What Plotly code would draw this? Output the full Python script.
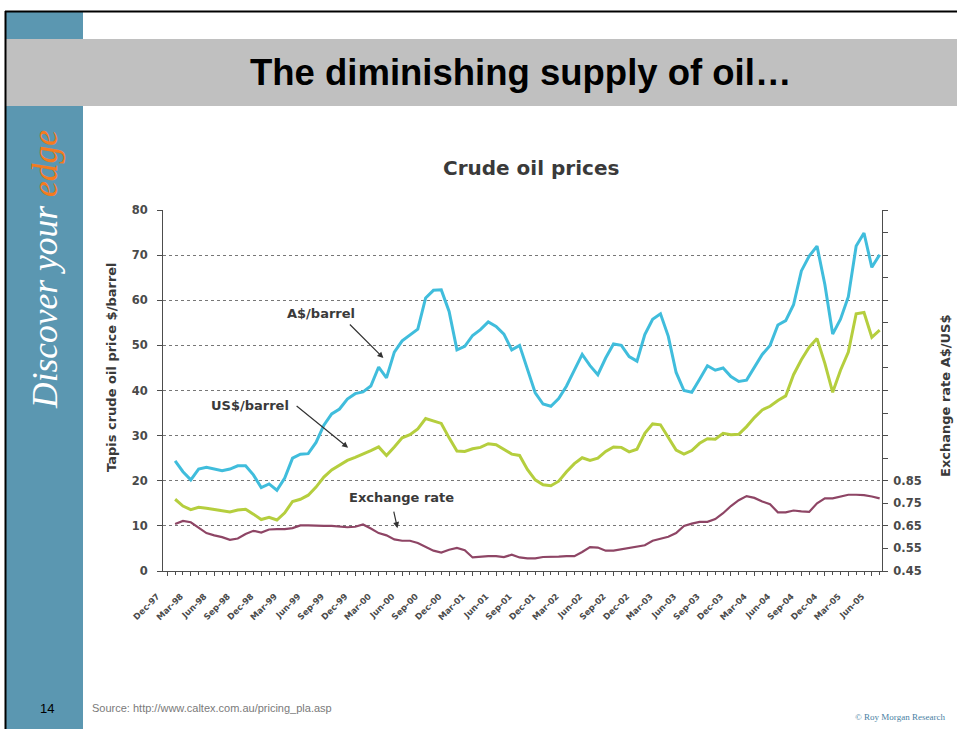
import plotly.graph_objects as go

# ---- data -----------------------------------------------------------------
# Month index 0 = Dec-97; series run monthly from Jan-98 (1) to Jul-05 (91)
month_index = list(range(1, 92))

aud_per_barrel = [
    24.4, 22.0, 20.2, 22.6, 23.0, 22.6, 22.2, 22.6, 23.3, 23.3, 21.3, 18.5,
    19.3, 17.9, 20.6, 25.0, 25.9, 26.0, 28.5, 32.3, 34.8, 35.9, 38.1, 39.3,
    39.7, 41.0, 45.2, 42.8, 48.5, 51.0, 52.2, 53.6, 60.5, 62.2, 62.3, 57.5,
    49.0, 49.8, 52.2, 53.5, 55.2, 54.2, 52.5, 49.0, 50.0, 45.0, 39.5, 37.0,
    36.5, 38.2, 41.0, 44.5, 48.0, 45.5, 43.5, 47.2, 50.3, 50.0, 47.5, 46.5,
    52.4, 55.8, 57.0, 52.0, 44.0, 40.0, 39.6, 42.5, 45.5, 44.5, 45.0, 43.1,
    42.0, 42.3, 45.3, 48.0, 50.0, 54.5, 55.5, 59.0, 66.5, 69.8, 72.0, 63.5,
    52.5, 55.8, 60.8, 72.0, 74.9, 67.3, 70.1,
]

usd_per_barrel = [
    15.9, 14.4, 13.6, 14.1, 13.9, 13.6, 13.4, 13.1, 13.5, 13.7, 12.6, 11.4,
    11.9, 11.3, 12.9, 15.4, 15.9, 16.8, 18.6, 20.8, 22.4, 23.5, 24.5, 25.2,
    25.9, 26.7, 27.5, 25.6, 27.5, 29.5, 30.2, 31.5, 33.8, 33.3, 32.7, 29.5,
    26.6, 26.5, 27.1, 27.4, 28.2, 28.0, 27.0, 25.9, 25.6, 22.5, 20.2, 19.1,
    18.9, 19.9, 22.0, 23.8, 25.1, 24.5, 25.0, 26.5, 27.5, 27.4, 26.4, 27.0,
    30.5, 32.6, 32.4, 29.5, 26.8, 25.9, 26.7, 28.3, 29.3, 29.2, 30.5, 30.2,
    30.3, 32.0, 34.0, 35.7, 36.5, 37.8, 38.8, 43.5, 46.8, 49.6, 51.5, 46.0,
    39.6, 44.5, 48.5, 57.0, 57.3, 51.8, 53.4,
]

exchange_rate = [
    0.658, 0.672, 0.666, 0.640, 0.618, 0.608, 0.600, 0.588, 0.594, 0.614, 0.628, 0.620,
    0.634, 0.636, 0.636, 0.640, 0.652, 0.652, 0.650, 0.650, 0.650, 0.646, 0.644, 0.646,
    0.656, 0.638, 0.618, 0.608, 0.590, 0.584, 0.584, 0.574, 0.556, 0.540, 0.532, 0.544,
    0.552, 0.542, 0.510, 0.514, 0.516, 0.516, 0.512, 0.522, 0.510, 0.506, 0.506, 0.512,
    0.512, 0.514, 0.516, 0.516, 0.534, 0.556, 0.554, 0.540, 0.540, 0.546, 0.550, 0.556,
    0.564, 0.584, 0.592, 0.602, 0.618, 0.650, 0.660, 0.668, 0.668, 0.680, 0.706, 0.738,
    0.764, 0.782, 0.774, 0.758, 0.746, 0.710, 0.710, 0.718, 0.714, 0.712, 0.750, 0.772,
    0.772, 0.780, 0.788, 0.788, 0.786, 0.780, 0.772,
]

quarter_labels = [
    "Dec-97", "Mar-98", "Jun-98", "Sep-98", "Dec-98", "Mar-99", "Jun-99", "Sep-99",
    "Dec-99", "Mar-00", "Jun-00", "Sep-00", "Dec-00", "Mar-01", "Jun-01", "Sep-01",
    "Dec-01", "Mar-02", "Jun-02", "Sep-02", "Dec-02", "Mar-03", "Jun-03", "Sep-03",
    "Dec-03", "Mar-04", "Jun-04", "Sep-04", "Dec-04", "Mar-05", "Jun-05",
]
quarter_positions = [3 * i for i in range(len(quarter_labels))]

price_ticks = [0, 10, 20, 30, 40, 50, 60, 70, 80]
rate_tick_values = [0.45, 0.55, 0.65, 0.75, 0.85]
rate_tick_labels = ["0.45", "0.55", "0.65", "0.75", "0.85"]

# ---- styling --------------------------------------------------------------
W, H = 957, 729
BLUE_BAR = "#5B97B1"
GREY_BAND = "#C0C0C0"
AXIS_GREY = "#4d4d4d"
LABEL_GREY = "#4a4a4a"
TEXT_DARK = "#3a3a3a"
FONT = "Liberation Sans, Arial, sans-serif"
CHART_FONT = "DejaVu Sans, Verdana, sans-serif"
SERIF = "Liberation Serif, Times New Roman, serif"

def px(x):
    return x / W

def py(y):
    return 1 - y / H

fig = go.Figure()

fig.add_trace(go.Scatter(x=month_index, y=aud_per_barrel, mode="lines",
                         line=dict(color="#40BDDC", width=3), name="A$/barrel",
                         yaxis="y"))
fig.add_trace(go.Scatter(x=month_index, y=usd_per_barrel, mode="lines",
                         line=dict(color="#B5CE3E", width=3), name="US$/barrel",
                         yaxis="y"))
fig.add_trace(go.Scatter(x=month_index, y=exchange_rate, mode="lines",
                         line=dict(color="#8E4565", width=2.2), name="Exchange rate",
                         yaxis="y2"))

# ---- slide furniture ------------------------------------------------------
shapes = [
    # blue side bar
    dict(type="rect", xref="paper", yref="paper", x0=px(6), x1=px(83), y0=0, y1=py(12),
         fillcolor=BLUE_BAR, line=dict(width=0), layer="below"),
    # grey title band
    dict(type="rect", xref="paper", yref="paper", x0=px(6), x1=1, y0=py(106), y1=py(39),
         fillcolor=GREY_BAND, line=dict(width=0), layer="below"),
    # top frame line
    dict(type="line", xref="paper", yref="paper", x0=px(5), x1=1, y0=py(11.5), y1=py(11.5),
         line=dict(color="black", width=2)),
    # left frame line
    dict(type="line", xref="paper", yref="paper", x0=px(5.5), x1=px(5.5), y0=0, y1=py(11),
         line=dict(color="black", width=2)),
]

bold_label = dict(family=CHART_FONT, size=13, color=TEXT_DARK)
arrow_style = dict(showarrow=True, arrowhead=2, arrowsize=1, arrowwidth=1.2, arrowcolor="#333")

annotations = [
    dict(text="<b>The diminishing supply of oil…</b>", xref="paper", yref="paper",
         x=px(520), y=py(72), showarrow=False, font=dict(family=FONT, size=36.5, color="black"),
         xanchor="center", yanchor="middle"),
    dict(text="<i>Discover your <span style='color:#F47B20'>edge</span></i>",
         xref="paper", yref="paper", x=px(45), y=py(270), textangle=-90, showarrow=False,
         font=dict(family=SERIF, size=35.5, color="white"), xanchor="center", yanchor="middle"),
    dict(text="14", xref="paper", yref="paper", x=px(47), y=py(708), showarrow=False,
         font=dict(family=FONT, size=13, color="black"), xanchor="center", yanchor="middle"),
    dict(text="Source: http://www.caltex.com.au/pricing_pla.asp", xref="paper", yref="paper",
         x=px(90), y=py(708), showarrow=False, font=dict(family=FONT, size=11, color="#7a7a7a"),
         xanchor="left", yanchor="middle"),
    dict(text="© Roy Morgan Research", xref="paper", yref="paper", x=px(947), y=py(717),
         showarrow=False, font=dict(family=SERIF, size=9, color="#4A7FA3"),
         xanchor="right", yanchor="middle"),
    # chart title
    dict(text="<b>Crude oil prices</b>", xref="paper", yref="paper", x=px(531), y=py(168),
         showarrow=False, font=dict(family=CHART_FONT, size=20, color=TEXT_DARK),
         xanchor="center", yanchor="middle"),
    # axis titles
    dict(text="<b>Tapis crude oil price $/barrel</b>", xref="paper", yref="paper",
         x=px(111), y=py(367), textangle=-90, showarrow=False,
         font=dict(family=CHART_FONT, size=13, color=TEXT_DARK),
         xanchor="center", yanchor="middle"),
    dict(text="<b>Exchange rate A$/US$</b>", xref="paper", yref="paper",
         x=px(945), y=py(396), textangle=-90, showarrow=False,
         font=dict(family=CHART_FONT, size=13, color=TEXT_DARK),
         xanchor="center", yanchor="middle"),
    # series labels
    dict(text="<b>A$/barrel</b>", xref="paper", yref="paper", x=px(321), y=py(313),
         xanchor="center", yanchor="middle", showarrow=False, font=bold_label),
    dict(text="<b>US$/barrel</b>", xref="paper", yref="paper", x=px(250), y=py(405),
         xanchor="center", yanchor="middle", showarrow=False, font=bold_label),
    dict(text="<b>Exchange rate</b>", xref="paper", yref="paper", x=px(401), y=py(497),
         xanchor="center", yanchor="middle", showarrow=False, font=bold_label),
    # pointer arrows
    dict(text="", x=27.6, y=47.2, xref="x", yref="y", ax=-35, ay=-35, **arrow_style),
    dict(text="", x=23.1, y=27.3, xref="x", yref="y", ax=-53, ay=-43, **arrow_style),
    dict(text="", x=29.4, y=9.5, xref="x", yref="y", ax=-4, ay=-18, **arrow_style),
]

tick_font = dict(family=CHART_FONT, size=11.5, color=LABEL_GREY, weight="bold")

fig.update_layout(
    width=W, height=H,
    margin=dict(l=0, r=0, t=0, b=0, pad=0),
    paper_bgcolor="white", plot_bgcolor="white",
    showlegend=False,
    shapes=shapes,
    annotations=annotations,
    xaxis=dict(
        domain=[px(163), px(882)], range=[-0.55, 91.3], automargin=False,
        tickvals=quarter_positions, ticktext=quarter_labels, tickangle=-45,
        tickfont=dict(family=CHART_FONT, size=8.5, color=LABEL_GREY, weight="bold"),
        ticklabelstandoff=12, ticklabelshift=-10,
        ticks="outside", ticklen=4, tickcolor=AXIS_GREY,
        minor=dict(dtick=1, tick0=0, ticks="outside", ticklen=3, tickcolor=AXIS_GREY),
        showgrid=False, zeroline=False,
        showline=True, linecolor=AXIS_GREY, linewidth=1,
    ),
    yaxis=dict(
        domain=[py(571), py(210)], range=[0, 80], automargin=False,
        tickvals=price_ticks, tickfont=tick_font, ticklabelstandoff=7,
        ticks="outside", ticklen=5, tickcolor=AXIS_GREY,
        showgrid=True, gridcolor="#777777", griddash="dot", gridwidth=1,
        zeroline=False, showline=True, linecolor=AXIS_GREY, linewidth=1,
    ),
    yaxis2=dict(
        overlaying="y", side="right", anchor="x", range=[0.45, 2.05], automargin=False,
        tickvals=rate_tick_values, ticktext=rate_tick_labels, tickfont=tick_font,
        ticklabelstandoff=3,
        ticks="outside", ticklen=5, tickcolor=AXIS_GREY,
        minor=dict(dtick=0.1, tick0=0.45, ticks="outside", ticklen=5, tickcolor=AXIS_GREY),
        showgrid=False, zeroline=False, showline=True, linecolor=AXIS_GREY, linewidth=1,
    ),
)

fig.write_html("out.html")
